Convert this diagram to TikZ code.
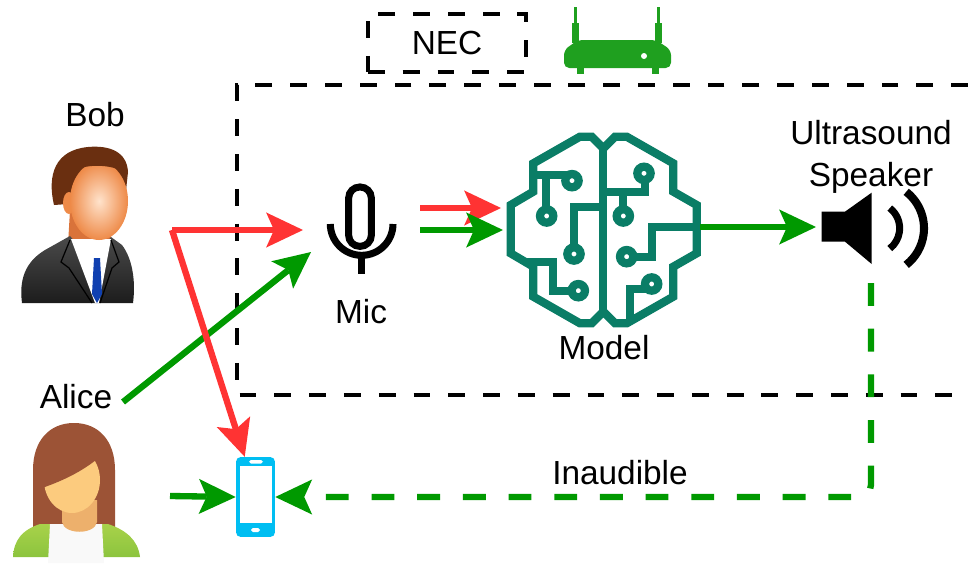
\documentclass[tikz,border=0pt]{standalone}
\usepackage{fontspec}
\setmainfont{Liberation Sans}
\usetikzlibrary{arrows.meta,shapes,backgrounds,calc}

\definecolor{sigred}{HTML}{FF3333}
\definecolor{siggreen}{HTML}{009900}
\definecolor{brainteal}{HTML}{0A7D66}
\definecolor{phonecyan}{HTML}{00BEF2}
\definecolor{routergreen}{HTML}{1FA01F}
\definecolor{bobhair}{HTML}{6A2F10}
\definecolor{bobskin}{HTML}{EE8A48}
\definecolor{bobskinlight}{HTML}{FFE3CC}
\definecolor{bobneck}{HTML}{D9733A}
\definecolor{suitdark}{HTML}{1C1C1C}
\definecolor{suitlight}{HTML}{4B4B4B}
\definecolor{tieblue}{HTML}{1040B0}
\definecolor{alicehair}{HTML}{9C5336}
\definecolor{aliceskin}{HTML}{FCCB7E}
\definecolor{aliceneck}{HTML}{EDB06C}
\definecolor{cardigan}{HTML}{8CC43E}
\definecolor{cardiganlight}{HTML}{A8D24A}

\tikzset{
  lbl/.style={font=\fontsize{19}{23.8}\selectfont, inner sep=0pt},
  sigtip/.style={-{Stealth[length=21pt,width=20pt,inset=4.5pt,line width=0pt]}},
  redsig/.style={color=sigred, line width=3.6pt, sigtip},
  greensig/.style={color=siggreen, line width=3.6pt, sigtip},
  inaudsig/.style={greensig, dash pattern=on 13pt off 13pt, rounded corners=7pt},
  boxdash/.style={draw=black, line width=2.3pt, dash pattern=on 9.6pt off 10.2pt},
  brainline/.style={draw=brainteal, line width=4.7pt},
  phonebox/.style={fill=phonecyan, rounded corners=2.5pt, minimum width=22.1pt, minimum height=45.4pt, inner sep=0pt}
}

\begin{document}
\begin{tikzpicture}[x=0.02cm, y=-0.02cm]
            \useasboundingbox (0,0) rectangle (968,565);

            % edge box and the NEC tag
            \draw[boxdash] (968,85) -- (237,85) -- (237,395) -- (968,395);
            \node[lbl, boxdash, minimum width=90pt, minimum height=33.5pt] (nec) at (447,43) {NEC};

            % router
            \fill[routergreen] (572,23) rectangle (579,43);
            \fill[routergreen] (655,23) rectangle (662,43);
            \draw[routergreen, line width=1.7pt] (575.5,7) -- (575.5,30);
            \draw[routergreen, line width=1.7pt] (658.5,7) -- (658.5,30);
            \fill[routergreen, rounded corners=3pt] (564,68) -- (564,50) -- (578,40) -- (656,40) -- (671,50) -- (671,68) -- cycle;
            \fill[routergreen] (577,66) rectangle (584,74);
            \fill[routergreen] (652,66) rectangle (659,74);
            \fill[white] (644,56) circle (3);

            % Bob
            \fill[bobhair] (54,205) .. controls (47,175) and (55,150) .. (88,147) .. controls (110,145) and (127,152) .. (128,172) -- (125,200) -- cycle;
            \fill[bobneck] (70,210) -- (108,210) -- (112,245) -- (92,262) -- (68,245) -- cycle;
            \shade[top color=suitlight, bottom color=suitdark] (22,303) .. controls (19,280) and (25,262) .. (45,250) -- (70,236) -- (92,262) -- (111,237) -- (122,245) .. controls (132,258) and (136,280) .. (133,303) -- cycle;
            \fill[white] (71,239) -- (111,239) -- (99,303) -- (95,303) -- cycle;
            \fill[tieblue] (94,258) -- (100,258) -- (102,294) -- (97,303) -- (92,294) -- cycle;
            \draw[black, line width=0.7pt] (70,240) -- (61,262) -- (69,268) -- (92,303);
            \draw[black, line width=0.7pt] (111,240) -- (119,262) -- (112,268) -- (100,303);
            \fill[bobskin] (69,203) ellipse [x radius=6, y radius=11];
            \shade[inner color=bobskinlight, outer color=bobskin] (99,201) ellipse [x radius=29, y radius=39];
            \fill[bobhair] (62,185) .. controls (62,160) and (85,151) .. (105,152) .. controls (118,153) and (127,160) .. (128,174) .. controls (115,165) and (88,162) .. (72,172) -- (66,190) -- cycle;

            % Alice
            \fill[alicehair] (33,532) -- (33,470) .. controls (33,440) and (50,423) .. (74,423) .. controls (98,423) and (115,440) .. (115,470) -- (115,532) -- cycle;
            \shade[top color=cardiganlight, bottom color=cardigan] (13,557) .. controls (14,540) and (22,530) .. (40,524) -- (108,524) .. controls (126,530) and (138,540) .. (140,557) -- cycle;
            \fill[white!95!gray] (50,524) -- (102,524) -- (104,563) -- (48,563) -- cycle;
            \fill[aliceneck] (62,500) -- (97,500) -- (97,522) .. controls (95,535) and (64,535) .. (62,522) -- cycle;
            \fill[aliceskin] (72,480) ellipse [x radius=28, y radius=33];
            \fill[alicehair] (42,488) .. controls (38,452) and (55,432) .. (75,430) .. controls (90,430) and (100,440) .. (102,455) .. controls (85,470) and (65,480) .. (42,488) -- cycle;

            % microphone
            \begin{scope}[shift={(300,170)}, scale=1/3, line width=4pt]
                \draw[rounded corners=6.3pt] (146,51) rectangle (214,229);
                \draw (91,162) arc[start angle=180, end angle=0, radius=94];
                \draw (185,256) -- (185,312);
            \end{scope}

            % model
            \begin{scope}[shift={(490,130)}, scale=1/3, brainline]
                \draw (340,55) -- (305,20) -- (270,20) -- (130,100) -- (130,185) -- (62,225) -- (62,370) -- (130,410) -- (130,500) -- (270,580) -- (305,580) -- (340,545) -- (375,580) -- (410,580) -- (550,500) -- (550,410) -- (620,370) -- (620,225) -- (550,185) -- (550,100) -- (410,20) -- (375,20) -- cycle;
                \draw (340,55) -- (340,545);
                \draw (130,135) -- (232,135);
                \draw (246,152) circle (20);
                \draw (168,135) -- (168,238);
                \draw (170,258) circle (20);
                \draw (340,232) -- (252,232) -- (252,350);
                \draw (252,372) circle (20);
                \draw (106,395) -- (190,395) -- (190,482) -- (245,482);
                \draw (265,482) circle (20);
                \draw (340,185) -- (465,185) -- (465,150);
                \draw (462,130) circle (20);
                \draw (400,185) -- (400,238);
                \draw (400,258) circle (20);
                \draw (620,290) -- (485,290) -- (485,380) -- (430,380);
                \draw (410,380) circle (20);
                \draw (420,574) -- (420,478) -- (467,478);
                \draw (485,462) circle (20);
            \end{scope}

            % speaker
            \begin{scope}[shift={(770,100)}, scale=1/3]
                \fill (155,335) -- (225,335) -- (305,278) -- (305,492) -- (225,425) -- (155,425) -- cycle;
                \draw[line width=4pt] (312,385) ++(-52:77) arc[start angle=-52, end angle=52, radius=77];
                \draw[line width=4.6pt] (323,385) ++(-52:139) arc[start angle=-52, end angle=52, radius=139];
            \end{scope}

            % phone
            \node[phonebox] (phone) at (255.5,497) {};
            \fill[white] (240,466) rectangle (272,523);
            \fill[white, rounded corners=1pt] (249,460) rectangle (263,463.5);
            \fill[white, rounded corners=1pt] (251,528) rectangle (260,532);

            % labels
            \node[lbl] (bob) at (95,115) {Bob};
            \node[lbl] (alice) at (76,397) {Alice};
            \node[lbl] (mic) at (361,312) {Mic};
            \node[lbl] (model) at (604,348) {Model};
            \node[lbl, align=center] (speaker) at (871,157) {Ultrasound\\Speaker};
            \node[lbl] (inaud) at (620,473) {Inaudible};

            % ports
            \coordinate (split) at (172,230);
            \coordinate (micred) at (303,230);
            \coordinate (alicesrc) at (123,402);
            \coordinate (micgreen) at (311,252);
            \coordinate (micout1) at (420,208);
            \coordinate (brainin1) at (501,208);
            \coordinate (micout2) at (420,230);
            \coordinate (brainin2) at (503,230);
            \coordinate (brainout) at (700,227);
            \coordinate (spkin) at (816,227);
            \coordinate (spkout) at (871,283);
            \coordinate (alicephone) at (170,496);

            % signal paths
            \draw[greensig] (alicesrc) -- (micgreen);
            \draw[redsig] (split) -- (micred);
            \draw[redsig] (split) -- (phone.105);
            \draw[redsig] (micout1) -- (brainin1);
            \draw[greensig] (micout2) -- (brainin2);
            \draw[greensig] (brainout) -- (spkin);
            \draw[greensig] (alicephone) -- (phone.west);
            \draw[inaudsig] (spkout) -- (spkout |- phone.east) -- (phone.east);
\end{tikzpicture}
\end{document}
